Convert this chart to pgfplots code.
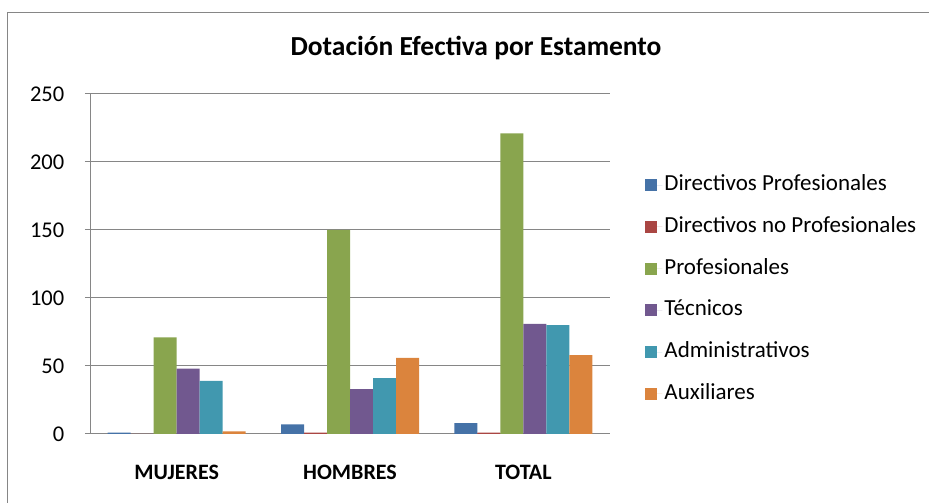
\documentclass[border=0pt]{standalone}
\usepackage{fontspec}
\setmainfont{Carlito}
\usepackage{pgfplots}
\pgfplotsset{compat=1.18}

\definecolor{cDirP}{HTML}{4572A7}
\definecolor{cDirNP}{HTML}{AA4643}
\definecolor{cProf}{HTML}{89A54E}
\definecolor{cTec}{HTML}{71588F}
\definecolor{cAdm}{HTML}{4198AF}
\definecolor{cAux}{HTML}{DB843D}
\definecolor{axgray}{HTML}{868686}

\pgfplotsset{
  sq/.style={legend image code/.code={\fill[##1] (0pt,-6pt) rectangle (12pt,6pt); \path (0pt,0pt) -- (17pt,0pt);}},
}

\begin{document}
\begin{tikzpicture}
\useasboundingbox (0pt,0pt) rectangle (929pt,503pt);
\draw[axgray, line width=1pt] (7pt,-20pt) -- (7pt,490pt) -- (960pt,490pt);
\node[font=\bfseries\fontsize{27.5}{32}\selectfont] at (476pt,455pt) {Dotación Efectiva por Estamento};
\begin{axis}[
  at={(90pt,69pt)}, anchor=south west,
  scale only axis, width=520pt, height=340pt,
  ybar=0pt, bar width=23pt,
  xmin=-0.5, xmax=2.5, ymin=0, ymax=250,
  xtick={0,1,2}, xticklabels={MUJERES,HOMBRES,TOTAL},
  ytick={0,50,...,250},
  axis x line*=bottom, axis y line*=left,
  axis line style={axgray, line width=1pt},
  ymajorgrids, grid style={axgray, line width=1pt},
  tick align=outside, major tick length=5pt,
  xtick style={draw=none}, ytick style={axgray, line width=1pt},
  /pgf/number format/assume math mode=true,
  yticklabel style={font=\fontsize{22.5}{27}\selectfont, anchor=east, inner sep=0pt, xshift=-20.5pt},
  xticklabel style={font=\bfseries\fontsize{22}{26}\selectfont, anchor=north, inner sep=0pt, yshift=-25.5pt},
  legend style={at={(1.062,0.775)}, anchor=north west, draw=none, fill=none,
    font=\fontsize{23}{27}\selectfont, row sep=16.7pt,
    nodes={inner sep=2pt, text height=16pt, text depth=5pt}},
  legend cell align=left,
]
\addplot[fill=cDirP, draw=none, sq] coordinates {(0,1) (1,7) (2,8)};
\addplot[fill=cDirNP, draw=none, sq] coordinates {(0,0) (1,1) (2,1)};
\addplot[fill=cProf, draw=none, sq] coordinates {(0,71) (1,150) (2,221)};
\addplot[fill=cTec, draw=none, sq] coordinates {(0,48) (1,33) (2,81)};
\addplot[fill=cAdm, draw=none, sq] coordinates {(0,39) (1,41) (2,80)};
\addplot[fill=cAux, draw=none, sq] coordinates {(0,2) (1,56) (2,58)};
\legend{Directivos Profesionales, Directivos no Profesionales, Profesionales, Técnicos, Administrativos, Auxiliares}
\end{axis}
\end{tikzpicture}
\end{document}
